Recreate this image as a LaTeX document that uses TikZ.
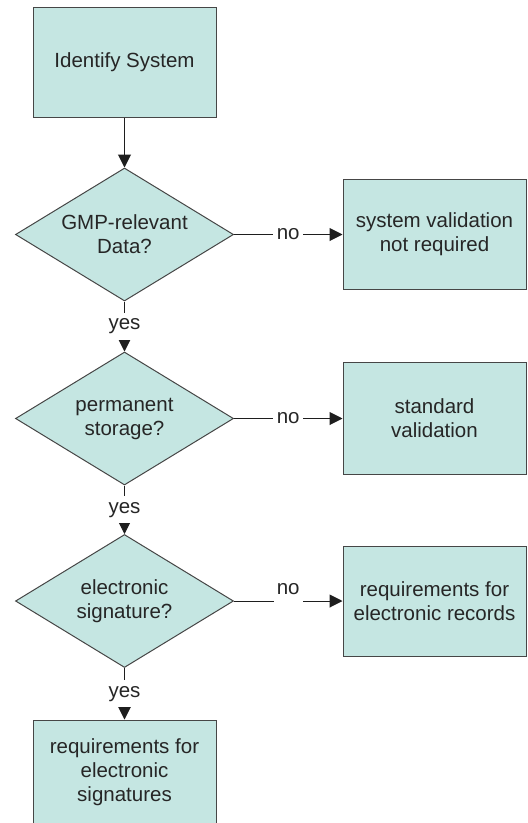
\documentclass[tikz,border=0pt]{standalone}
\usepackage{fontspec}
\setmainfont{Liberation Sans}
\usetikzlibrary{shapes.geometric,arrows.meta}
\definecolor{boxfill}{RGB}{197,230,226}
\definecolor{boxline}{RGB}{70,70,70}
\definecolor{txt}{RGB}{38,38,38}
\definecolor{connc}{RGB}{30,30,30}
\newcommand{\diafont}{\fontsize{20.5}{24}\selectfont}
\begin{document}
\begin{tikzpicture}[x=1pt,y=-1pt,
  procbox/.style={rectangle, draw=boxline, line width=1pt, fill=boxfill,
    minimum width=183pt, minimum height=110pt, align=center, text=txt,
    font=\diafont, inner sep=0pt},
  decision/.style={diamond, draw=boxline, line width=1pt, fill=boxfill,
    minimum width=218pt, minimum height=133pt, aspect=1.64, inner sep=0pt,
    align=center, text=txt, font=\diafont},
  connarrow/.style={draw=connc, line width=1pt, -{Triangle[length=13pt,width=13pt]}},
  lbl/.style={fill=white, text=txt, font=\diafont, inner xsep=3.5pt, inner ysep=6pt},
  gapnode/.style={fill=white, minimum width=29pt, minimum height=4pt, inner sep=0pt},
  lbltext/.style={text=txt, font=\diafont, inner sep=0pt}
]
\useasboundingbox (0,0) rectangle (528,823);
\fill[white] (0,0) rectangle (528,823);

\node[procbox] (id) at (124.5,62) {Identify System};
\node[decision] (d1) at (124.5,234.5) {GMP-relevant\\Data?};
\node[procbox] (b1) at (434.5,234.5) {system validation\\not required};
\node[decision] (d2) at (124.5,418.5) {permanent\\storage?};
\node[procbox, minimum height=112pt] (b2) at (434.5,418.5) {standard\\validation};
\node[decision] (d3) at (124.5,601) {electronic\\signature?};
\node[procbox] (b3) at (434.5,601) {requirements for\\electronic records};
\node[procbox, minimum height=104pt] (b4) at (124.5,772) {requirements for\\electronic\\signatures};

\draw[connarrow] (id.south) -- (d1.north);
\draw[connarrow] (d1.east) -- node[lbl] {no} (b1.west);
\draw[connarrow] (d1.south) -- node[lbl] {yes} (d2.north);
\draw[connarrow] (d2.east) -- node[lbl] {no} (b2.west);
\draw[connarrow] (d2.south) -- node[lbl] {yes} (d3.north);
\draw[connarrow] (d3.east) -- node[gapnode] (g3) {} (b3.west);
\node[lbltext] at ([yshift=12pt]g3.center) {no};
\draw[connarrow] (d3.south) -- node[lbl] {yes} (b4.north);
\end{tikzpicture}
\end{document}
